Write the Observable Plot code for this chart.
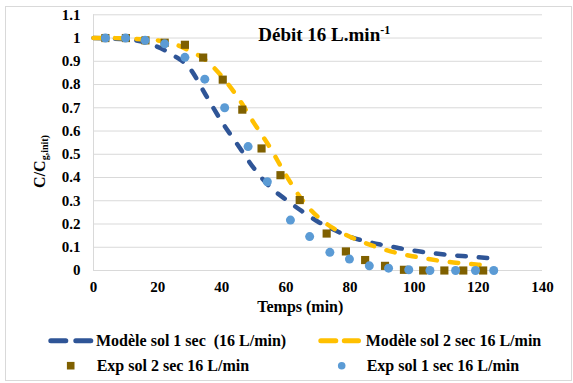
<!DOCTYPE html>
<html>
<head>
<meta charset="utf-8">
<script src="https://cdn.jsdelivr.net/npm/d3@7"></script>
<script src="https://cdn.jsdelivr.net/npm/@observablehq/plot@0.6"></script>
<style>
  html, body { margin: 0; padding: 0; background: #fff; }
  #wrap { position: relative; width: 573px; height: 383px; overflow: hidden; }
  #frame { position: absolute; left: 5px; top: 6px; width: 567px; height: 375px; border: 1px solid #D9D9D9; box-sizing: border-box; }
  #chart { position: absolute; left: 0; top: 0; }
  #overlay { position: absolute; left: 0; top: 0; }
  .t { font-family: 'Liberation Serif', 'Times New Roman', serif; font-weight: bold; fill: #000; white-space: pre; }
</style>
</head>
<body>
<div id="wrap">
  <div id="frame"></div>
  <div id="chart"></div>
  <svg id="overlay" width="573" height="383"></svg>
</div>
<script>
// ---- data ----
const xTicks = [0, 20, 40, 60, 80, 100, 120, 140];
const yTicks = [0, 0.1, 0.2, 0.3, 0.4, 0.5, 0.6, 0.7, 0.8, 0.9, 1, 1.1];

// Modèle sol 1 sec (16 L/min)
const model1Time = [0, 5, 10, 15, 20, 25, 30, 35, 40, 45, 50, 55, 60, 65, 70, 75, 80, 85, 90, 95, 100, 105, 110, 115, 120, 123];
const model1Value = [1.0, 0.998, 0.995, 0.985, 0.962, 0.925, 0.87, 0.755, 0.64, 0.54, 0.44, 0.36, 0.305, 0.255, 0.21, 0.175, 0.145, 0.125, 0.11, 0.097, 0.085, 0.076, 0.068, 0.062, 0.057, 0.053];

// Modèle sol 2 sec 16 L/min
const model2Time = [0, 5, 10, 15, 20, 25, 30, 35, 40, 45, 50, 55, 60, 65, 70, 75, 80, 85, 90, 95, 100, 105, 110, 115, 120, 121.5];
const model2Value = [1.0, 1.0, 0.998, 0.995, 0.99, 0.975, 0.945, 0.905, 0.835, 0.745, 0.635, 0.53, 0.41, 0.305, 0.23, 0.18, 0.145, 0.117, 0.093, 0.074, 0.06, 0.048, 0.038, 0.031, 0.025, 0.023];

// Exp sol 2 sec 16 L/min
const exp2Time = [3.7, 10.1, 16.2, 22.2, 28.5, 34.2, 40.3, 46.4, 52.4, 58.3, 64.3, 72.7, 78.7, 84.7, 90.9, 96.8, 102.8, 109.4, 115.3, 121.5];
const exp2Value = [1.0, 1.0, 0.99, 0.98, 0.971, 0.916, 0.821, 0.692, 0.525, 0.41, 0.303, 0.159, 0.082, 0.045, 0.02, 0.003, 0, 0, 0, 0];

// Exp sol 1 sec 16 L/min
const exp1Time = [3.7, 10.0, 16.1, 22.2, 28.5, 34.7, 40.9, 48.2, 54.2, 61.4, 67.4, 73.7, 79.8, 86.0, 92.0, 98.3, 104.9, 112.9, 119.1, 124.8];
const exp1Value = [1.0, 1.0, 0.99, 0.975, 0.917, 0.823, 0.70, 0.533, 0.382, 0.217, 0.146, 0.078, 0.049, 0.02, 0.01, 0.003, 0, 0, 0, 0];

const legendLabels = ["Modèle sol 1 sec  (16 L/min)", "Modèle sol 2 sec 16 L/min", "Exp sol 2 sec 16 L/min", "Exp sol 1 sec 16 L/min"];

// ---- build ----
const zip = (t, v) => t.map((x, i) => ({t: x, c: v[i]}));
const model1 = zip(model1Time, model1Value);
const model2 = zip(model2Time, model2Value);
const exp2 = zip(exp2Time, exp2Value);
const exp1 = zip(exp1Time, exp1Value);

const BLUE = "#2F5597", YELLOW = "#FFC000", BROWN = "#7F6000", LIGHT = "#5B9BD5", GRID = "#D9D9D9";
const FONT = "'Liberation Serif', 'Times New Roman', serif";

const plot = Plot.plot({
  width: 573, height: 383,
  marginLeft: 93, marginRight: 31, marginTop: 14.3, marginBottom: 113,
  style: {fontFamily: FONT, fontSize: "15px", fontWeight: "bold", color: "#000", background: "transparent", overflow: "visible"},
  x: {domain: [0, 140], ticks: xTicks, tickSize: 0, tickPadding: 11, label: null},
  y: {domain: [0, 1.1], ticks: yTicks, tickSize: 0, tickPadding: 13, label: null, tickFormat: d => String(+d.toFixed(1))},
  marks: [
    Plot.ruleY(yTicks.filter(d => d > 0), {stroke: GRID, strokeWidth: 1}),
    Plot.ruleY([0], {stroke: GRID, strokeWidth: 1}),
    Plot.ruleX([0], {stroke: GRID, strokeWidth: 1}),
    Plot.line(model1, {x: "t", y: "c", stroke: BLUE, strokeWidth: 4.5, strokeDasharray: "8.5,13", strokeLinecap: "round", curve: "monotone-x"}),
    Plot.line(model2, {x: "t", y: "c", stroke: YELLOW, strokeWidth: 4.5, strokeDasharray: "8.5,13", strokeLinecap: "round", curve: "monotone-x"}),
    Plot.dot(exp2, {x: "t", y: "c", symbol: "square", fill: BROWN, r: 4.6}),
    Plot.dot(exp1, {x: "t", y: "c", fill: LIGHT, r: 4.5})
  ]
});
document.getElementById("chart").appendChild(plot);

// ---- overlay: title, axis labels, legend ----
const ov = d3.select("#overlay");
function txt(x, y, s, size, anchor) {
  return ov.append("text").attr("class", "t").attr("x", x).attr("y", y)
    .attr("font-size", size).attr("text-anchor", anchor || "start").text(s);
}
// title inside plot
const title = ov.append("text").attr("class", "t").attr("x", 258.3).attr("y", 40.5).attr("font-size", 19);
title.append("tspan").text("Débit 16 L.min");
title.append("tspan").attr("font-size", 12).attr("dy", -7).text("-1");

// x label
txt(300.3, 312.3, "Temps (min)", 16, "middle");

// y label (rotated)
const yl = ov.append("text").attr("class", "t").attr("font-size", 16)
  .attr("text-anchor", "middle")
  .attr("transform", "translate(45,161.5) rotate(-90)");
yl.append("tspan").text("C/C");
yl.append("tspan").attr("font-size", 10).attr("dy", 3).text("g,init)");

// legend
ov.append("line").attr("x1", 50.8).attr("x2", 90.8).attr("y1", 340.7).attr("y2", 340.7)
  .attr("stroke", BLUE).attr("stroke-width", 5).attr("stroke-linecap", "round").attr("stroke-dasharray", "15,10");
txt(96, 345.7, legendLabels[0], 16);
ov.append("line").attr("x1", 320.8).attr("x2", 358.5).attr("y1", 340.7).attr("y2", 340.7)
  .attr("stroke", YELLOW).attr("stroke-width", 5).attr("stroke-linecap", "round").attr("stroke-dasharray", "15,8.5");
txt(365.7, 345.7, legendLabels[1], 16);
ov.append("rect").attr("x", 70.7 - 3.8).attr("y", 365.7 - 3.8).attr("width", 7.6).attr("height", 7.6).attr("fill", BROWN);
txt(96.7, 371, legendLabels[2], 16);
ov.append("circle").attr("cx", 341.7).attr("cy", 365.7).attr("r", 3.8).attr("fill", LIGHT);
txt(366.7, 371, legendLabels[3], 16);
</script>
</body>
</html>
